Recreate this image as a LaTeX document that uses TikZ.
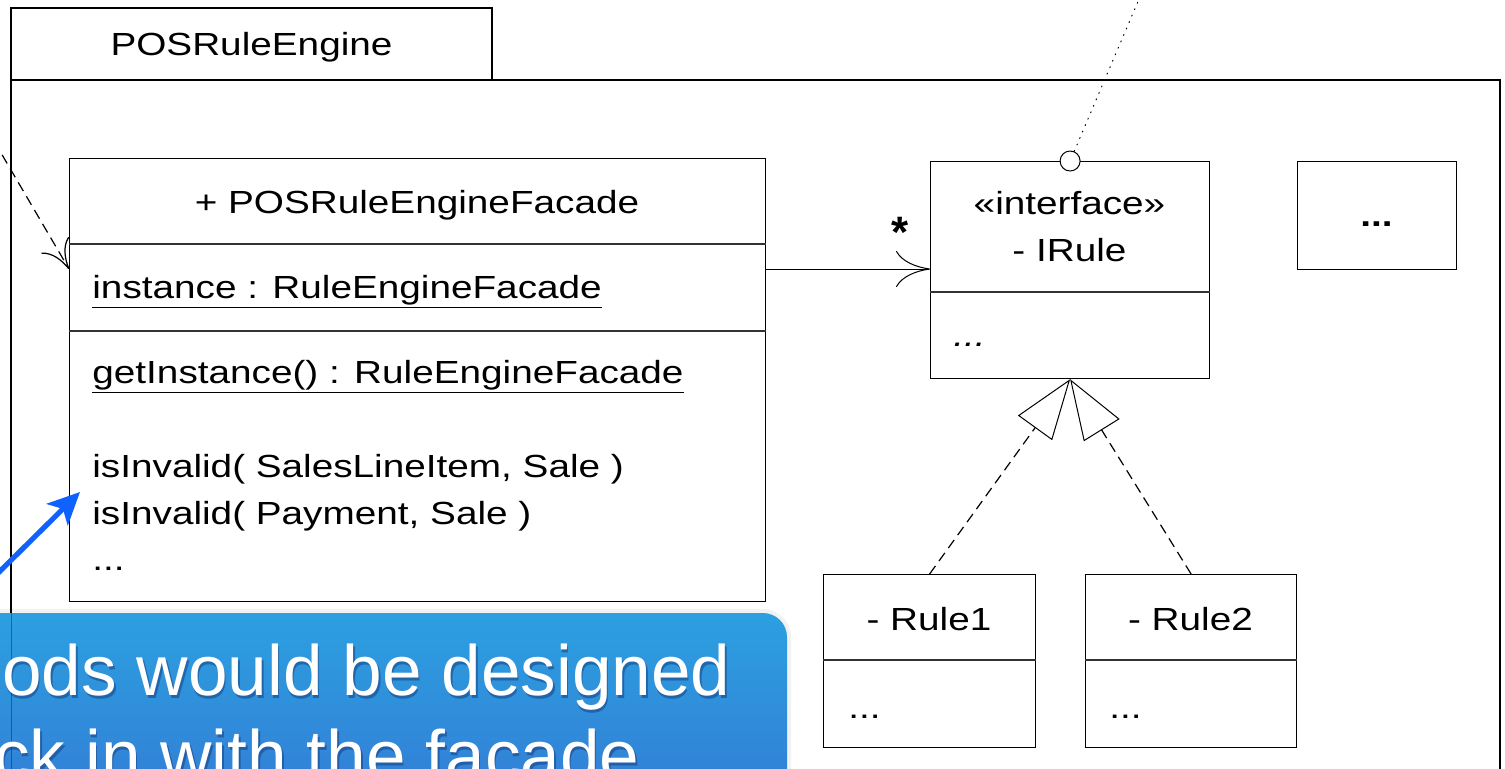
\documentclass[tikz,border=0pt]{standalone}
\usepackage{fontspec}
\setmainfont{Liberation Sans}
\usetikzlibrary{arrows.meta}
\definecolor{calloutTop}{RGB}{44,160,224}
\definecolor{calloutBot}{RGB}{52,120,212}
\definecolor{pointerblue}{RGB}{16,98,255}
\definecolor{textshade}{RGB}{18,48,110}
% UML text is set slightly wide
\newcommand{\wide}[1]{\scalebox{1.21}[1]{#1}}
\begin{document}
\begin{tikzpicture}[x=0.5pt,y=-0.5pt,
  frame/.style={line width=0.65pt},
  classbox/.style={draw, line width=0.6pt, inner sep=0pt, anchor=north west},
  divider/.style={line width=0.55pt, black!80},
  uml/.style={inner sep=0pt, font=\fontsize{16}{19}\selectfont},
  assoc/.style={line width=0.5pt, -{Computer Modern Rightarrow[length=17pt,width=18pt]}},
  depend/.style={line width=0.6pt, dash pattern=on 5pt off 3pt, -{Computer Modern Rightarrow[length=14pt,width=16pt]}},
  realize/.style={line width=0.6pt, dash pattern=on 5pt off 3pt, -{Triangle[open,length=30pt,width=21pt,line width=0.5pt]}},
  lollipop/.style={line width=0.5pt, dash pattern=on 0.5pt off 3pt, line cap=round},
  pointer/.style={line width=2.6pt, pointerblue, -{Stealth[length=16pt,width=15pt,inset=4pt]}},
  callouttext/.style={inner sep=0pt, text=white, font=\fontsize{35.6}{40}\selectfont},
  calloutshade/.style={inner sep=0pt, text=textshade, opacity=0.45, font=\fontsize{35.6}{40}\selectfont}
]
\useasboundingbox (0,0) rectangle (1505,768);
\clip (0,0) rectangle (1505,768);
\fill[white] (0,0) rectangle (1505,768);

% package frame with its name tab
\draw[frame] (11,8) rectangle (492,80);
\draw[frame] (11,820) -- (11,80) -- (1500,80) -- (1500,820);
\node[uml, anchor=base] (pkgname) at (251.5,55) {\wide{POSRuleEngine}};

% facade class
\node[classbox, minimum width=348pt, minimum height=221.5pt] (facade) at (69,158) {};
\draw[divider] (facade.west |- 0,244) -- (facade.east |- 0,244);
\draw[divider] (facade.west |- 0,331) -- (facade.east |- 0,331);
\node[uml, anchor=base] (facadename) at (417,213) {\wide{+ POSRuleEngineFacade}};
\node[uml, anchor=base west] (attr) at (92,298) {\wide{\underline{instance : RuleEngineFacade}}};
\node[uml, anchor=base west] (op1) at (92,383) {\wide{\underline{getInstance() : RuleEngineFacade}}};
\node[uml, anchor=base west] (op2) at (92,477) {\wide{isInvalid( SalesLineItem, Sale )}};
\node[uml, anchor=base west] (op3) at (92,524) {\wide{isInvalid( Payment, Sale )}};
\node[uml, anchor=base west] (op4) at (92,570) {\wide{...}};

% rule interface
\node[classbox, minimum width=139.5pt, minimum height=108.5pt] (irule) at (930,161) {};
\draw[divider] (irule.west |- 0,292) -- (irule.east |- 0,292);
\node[uml, anchor=base] (stereo) at (1069.5,214) {\wide{«interface»}};
\node[uml, anchor=base] (irulename) at (1069.5,261) {\wide{- IRule}};
\node[uml, anchor=base west] (iruleops) at (953,346) {\wide{\itshape ...}};

% further rule types
\node[classbox, minimum width=79.5pt, minimum height=54pt] (more) at (1297,161) {};
\node[uml, anchor=base] (moredots) at (1376.5,226) {\wide{\bfseries ...}};

% concrete rules
\node[classbox, minimum width=106pt, minimum height=86.5pt] (rule1) at (823,574) {};
\draw[divider] (rule1.west |- 0,660) -- (rule1.east |- 0,660);
\node[uml, anchor=base] (rule1name) at (929,630) {\wide{- Rule1}};
\node[uml, anchor=base west] (rule1ops) at (848,718) {\wide{...}};

\node[classbox, minimum width=105.5pt, minimum height=86.5pt] (rule2) at (1085,574) {};
\draw[divider] (rule2.west |- 0,660) -- (rule2.east |- 0,660);
\node[uml, anchor=base] (rule2name) at (1190.5,630) {\wide{- Rule2}};
\node[uml, anchor=base west] (rule2ops) at (1109,718) {\wide{...}};

% association facade -> rules
\draw[assoc] (facade.east |- 0,269) -- (irule.west |- 0,269);
\node[inner sep=0pt, font=\fontsize{22}{22}\selectfont\bfseries] (mult) at (900,232) {*};

% incoming dependency
\coordinate (depsrc) at (-6,141);
\draw[depend] (depsrc) -- (facade.west |- 0,269);

% provided interface
\node[circle, draw, line width=0.5pt, fill=white, minimum size=10pt, inner sep=0pt] (lolli) at (irule.north) {};
\coordinate (lolliend) at (1142,-8);
\draw[lollipop] (lolli) -- (lolliend);

% realizations
\draw[realize] (rule1.north) -- (irule.south);
\draw[realize] (rule2.north) -- (irule.south);

% callout bubble
\fill[black, opacity=0.05, rounded corners=14pt] (-40,609) rectangle (791,830);
\shade[top color=calloutTop, bottom color=calloutBot, rounded corners=12pt] (-40,613) rectangle (787,830);
\draw[black, opacity=0.35, line width=0.4pt] (11,613) -- (11,780);
\node[calloutshade, anchor=base west] at (3.5,698) {ods would be designed};
\node[callouttext, anchor=base west] (line1) at (2,695) {ods would be designed};
\node[calloutshade, anchor=base west] at (-4.5,783) {ck in with the facade};
\node[callouttext, anchor=base west] (line2) at (-6,780) {ck in with the facade};

% pointer
\coordinate (ptrsrc) at (-12,583);
\coordinate (ptrtip) at (80,492);
\draw[pointer] (ptrsrc) -- (ptrtip);
\end{tikzpicture}
\end{document}
